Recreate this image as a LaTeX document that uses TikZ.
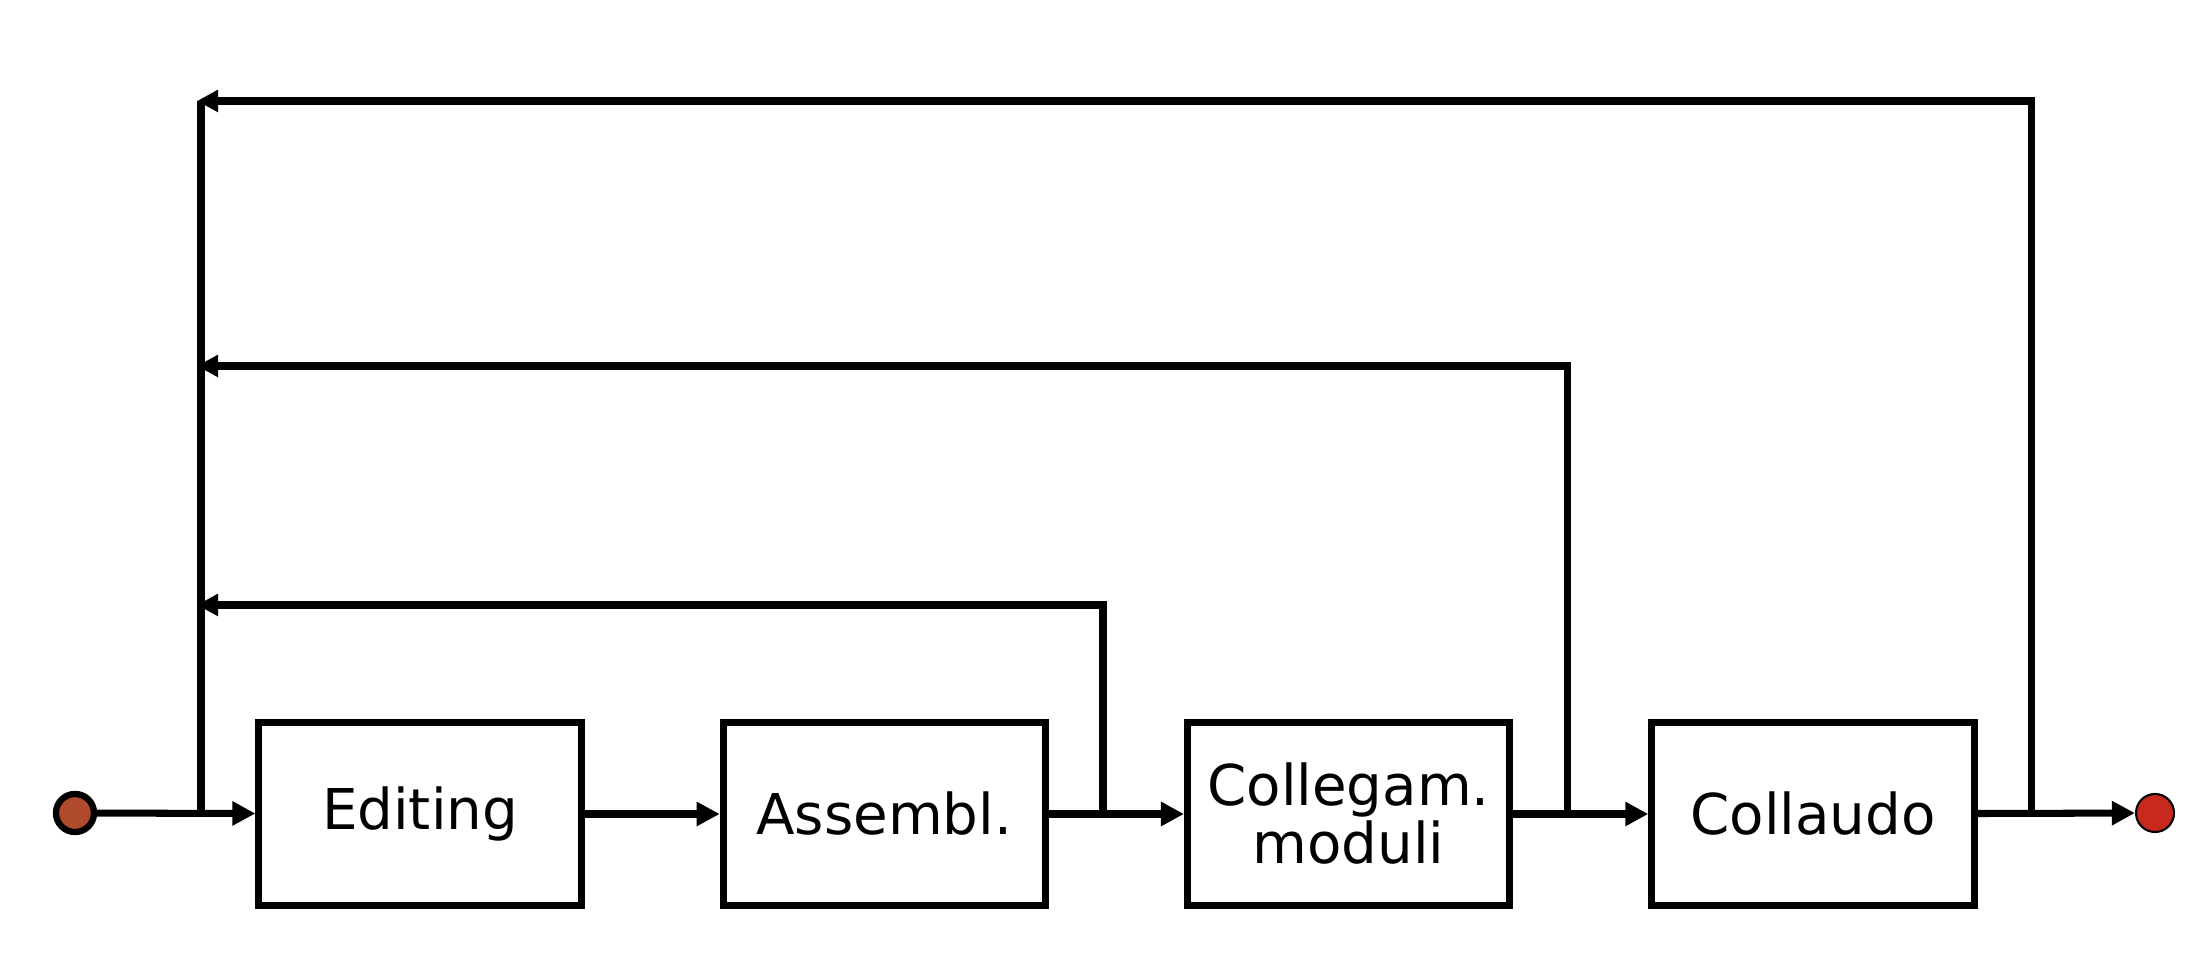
\documentclass[tikz,border=0pt]{standalone}
\usepackage{fontspec}
\setmainfont{DejaVu Sans}
\usetikzlibrary{chains}
\usetikzlibrary{arrows.meta}

\definecolor{startred}{RGB}{176,74,44}
\definecolor{stopred}{RGB}{200,41,30}

\begin{document}
\begin{tikzpicture}[
x=0.01cm, y=-0.01cm,
start chain=1 going right,
node distance=1.35cm,
line width=2pt,
phase/.style={
	on chain=1,
	rectangle,
	draw=black,
	line width=2pt,
	align=center,
	minimum width=3.22cm,
	minimum height=1.83cm,
	inner sep=0pt
},
term/.style={
	circle,
	draw=black,
	minimum size=0.38cm,
	inner sep=0pt
},
flow/.style={-{Triangle[length=0.23cm,width=0.23cm]}},
back/.style={-{Triangle[length=0.21cm,width=0.21cm]}},
every node/.style={font=\fontsize{16}{15.4}\selectfont}
]
\useasboundingbox (0,0) rectangle (2206,980);

% Phases
\node [phase] (edit) at (420,814) {Editing};
\node [phase] (asm) {Assembl.};
\node [phase] (link) {Collegam.\\moduli};
\node [phase] (test) {Collaudo};

% Start and end
\node [term, fill=startred, line width=1.8pt] (start) at (75,813) {};
\node [term, fill=stopred, line width=0.6pt] (stop) at (2155,813) {};

% Junctions
\coordinate (j0) at (201,813);
\coordinate (j1) at (1103,813);
\coordinate (j2) at (1567,813);
\coordinate (j3) at (2031,813);
\coordinate (top) at (201,101);
\coordinate (r1) at (197,605);
\coordinate (r2) at (197,366);
\coordinate (r3) at (197,101);

% Forward flow
\draw [flow] (start) -- (edit);
\draw [flow] (edit) -- (asm);
\draw [flow] (asm) -- (link);
\draw [flow] (link) -- (test);
\draw [flow] (test) -- (stop);

% Feedback
\draw (j0) -- (top);
\draw [back] (j1) |- (r1);
\draw [back] (j2) |- (r2);
\draw [back] (j3) |- (r3);

\end{tikzpicture}
\end{document}
